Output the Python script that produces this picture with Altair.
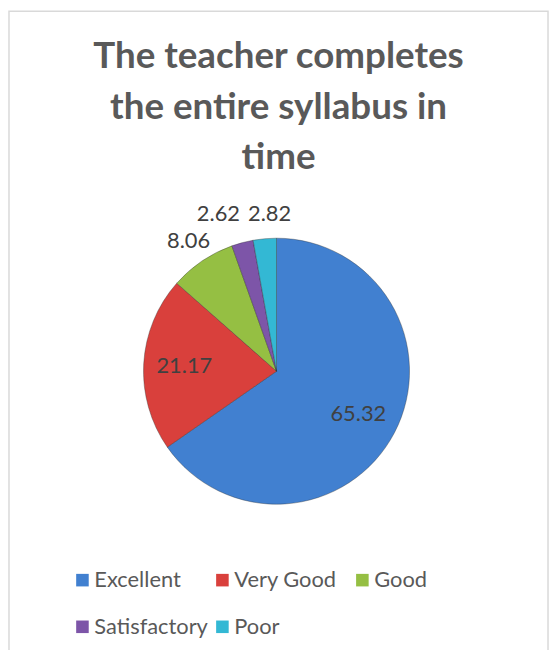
import altair as alt
import pandas as pd

categories = ["Excellent", "Very Good", "Good", "Satisfactory", "Poor"]
values = [65.32, 21.17, 8.06, 2.62, 2.82]
colors = ["#4180D0", "#D9403C", "#95BF43", "#7D55A8", "#33B8D4"]
title_lines = ["The teacher completes", "the entire syllabus in", "time"]

df = pd.DataFrame({"category": categories, "value": values, "order": list(range(len(categories)))})

W, H = 545, 642
CX, CY, R = 270.5, 363.5, 134
FONT = "Lato"

arcs = alt.Chart(df).mark_arc(
    outerRadius=R, stroke="#2b2b2b", strokeWidth=0.6, strokeOpacity=0.6
).encode(
    theta=alt.Theta("value:Q", stack=True),
    order=alt.Order("order:Q"),
    x=alt.value(CX),
    y=alt.value(CY),
    color=alt.Color(
        "category:N",
        scale=alt.Scale(domain=categories, range=colors),
        sort=categories,
        legend=alt.Legend(
            orient="none",
            direction="horizontal",
            legendX=64,
            legendY=563,
            columns=3,
            gridAlign="all",
            title=None,
            symbolType="square",
            symbolSize=160,
            symbolStrokeWidth=0,
            labelFont=FONT,
            labelFontSize=22,
            labelColor="#595959",
            labelOffset=1,
            columnPadding=3,
            rowPadding=25,
        ),
    ),
)

# label placement: inside for large slices, outside (spread apart) for small ones
labels = (
    alt.Chart(df)
    .transform_joinaggregate(total="sum(value)")
    .transform_window(cum="sum(value)", sort=[alt.SortField("order")], frame=[None, 0])
    .transform_calculate(
        mid="(datum.cum - datum.value / 2) / datum.total * 2 * PI",
        lr="datum.value > 10 ? 93 : 158",
        sx="datum.value < 5 ? (datum.order == 3 ? -18 : 7) : 0",
        sy="datum.value < 5 ? (datum.order == 3 ? -6 : -1) : 0",
    )
    .transform_calculate(
        px=f"{CX} + datum.lr * sin(datum.mid) + datum.sx",
        py=f"{CY} - datum.lr * cos(datum.mid) + datum.sy",
    )
    .mark_text(font=FONT, fontSize=22, color="#404040")
    .encode(
        x=alt.X("px:Q", scale=None),
        y=alt.Y("py:Q", scale=None),
        text=alt.Text("value:Q", format=".2f"),
    )
)

frame = alt.Chart(pd.DataFrame({"k": [0]})).mark_rect(
    fill=None, stroke="#D9D9D9", strokeWidth=1.5
).encode(
    x=alt.value(1), x2=alt.value(W - 1), y=alt.value(1), y2=alt.value(H + 20)
)

chart = alt.layer(frame, arcs, labels).properties(
    width=W,
    height=H,
    autosize=alt.AutoSizeParams(type="none"),
    padding=0,
    background="white",
    title=alt.TitleParams(
        text=title_lines,
        font=FONT,
        fontSize=37,
        fontWeight="bold",
        color="#595959",
        anchor="middle",
        frame="group",
        lineHeight=51,
        offset=-168,
    ),
).configure_view(stroke=None)

chart.save("out.html", embed_options={"renderer": "svg", "actions": False})
